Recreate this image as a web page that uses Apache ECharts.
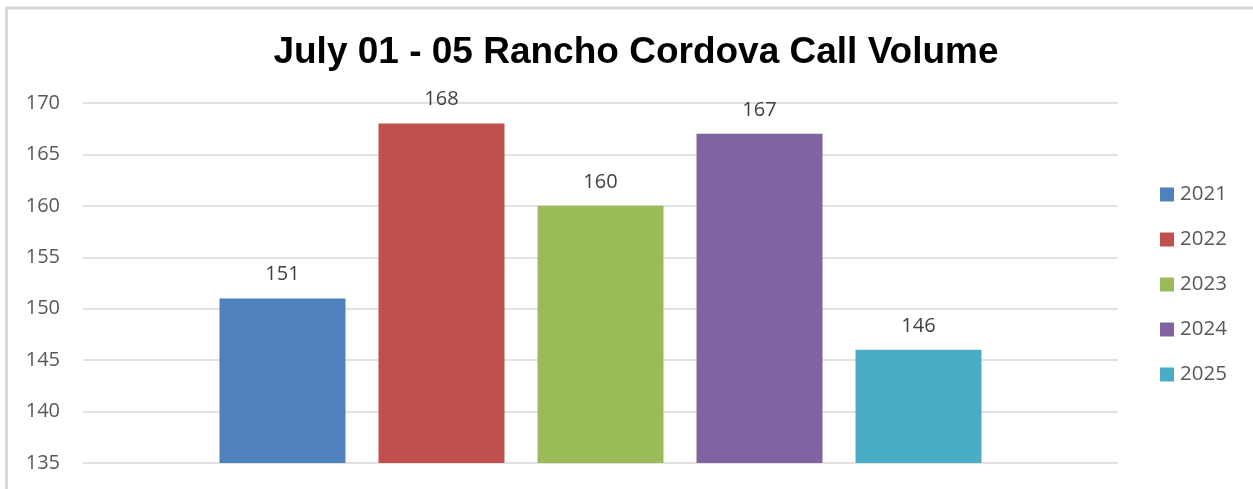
<!DOCTYPE html>
<html>
<head>
<meta charset="utf-8">
<script src="https://cdn.jsdelivr.net/npm/echarts@6/dist/echarts.min.js"></script>
<style>html,body{margin:0;padding:0;background:#fff;}#c{width:1253px;height:489px;}</style>
</head>
<body>
<div id="c"></div>
<script>
var titleText = 'July 01 - 05 Rancho Cordova Call Volume';
var years = ['2021', '2022', '2023', '2024', '2025'];
var values = [151, 168, 160, 167, 146];
var colors = ['#4f81bd', '#c0504d', '#9bbb59', '#8064a2', '#4bacc6'];
var yMin = 135, yMax = 170, yStep = 5;

var chart = echarts.init(document.getElementById('c'), null, {renderer: 'canvas'});
var series = years.map(function (y, i) {
  return {
    name: y,
    type: 'bar',
    data: [values[i]],
    barWidth: 126,
    barGap: '26.2%',
    itemStyle: {color: colors[i]},
    label: {
      show: true,
      position: 'top',
      distance: 14,
      fontFamily: 'Open Sans',
      fontSize: 20,
      color: '#404040'
    }
  };
});
chart.setOption({
  animation: false,
  backgroundColor: '#fff',
  title: {
    text: titleText,
    left: 631,
    top: 29,
    textAlign: 'center',
    textStyle: {fontFamily: 'Liberation Sans', fontWeight: 'bold', fontSize: 37, color: '#000'}
  },
  legend: {
    orient: 'vertical',
    left: 1155,
    top: 179,
    itemWidth: 14,
    itemHeight: 14,
    itemGap: 24,
    icon: 'rect',
    data: years,
    textStyle: {fontFamily: 'Open Sans', fontSize: 20.5, lineHeight: 20, color: '#595959', padding: [0, 0, 0, 1]}
  },
  grid: {left: 83, right: 135, top: 103, bottom: 26, containLabel: false},
  xAxis: {
    type: 'category',
    data: [''],
    axisLine: {show: false},
    axisTick: {show: false},
    axisLabel: {show: false}
  },
  yAxis: {
    type: 'value',
    min: yMin,
    max: yMax,
    interval: yStep,
    axisLine: {show: false},
    axisTick: {show: false},
    axisLabel: {fontFamily: 'Open Sans', fontSize: 20, color: '#595959', margin: 23},
    splitLine: {lineStyle: {color: '#d9d9d9', width: 1.5}}
  },
  graphic: [{
    type: 'polyline',
    shape: {points: [[6.5, 489], [6.5, 8], [1253, 8]]},
    style: {stroke: '#d9d9d9', lineWidth: 3, fill: null},
    silent: true
  }],
  series: series
});
</script>
</body>
</html>
